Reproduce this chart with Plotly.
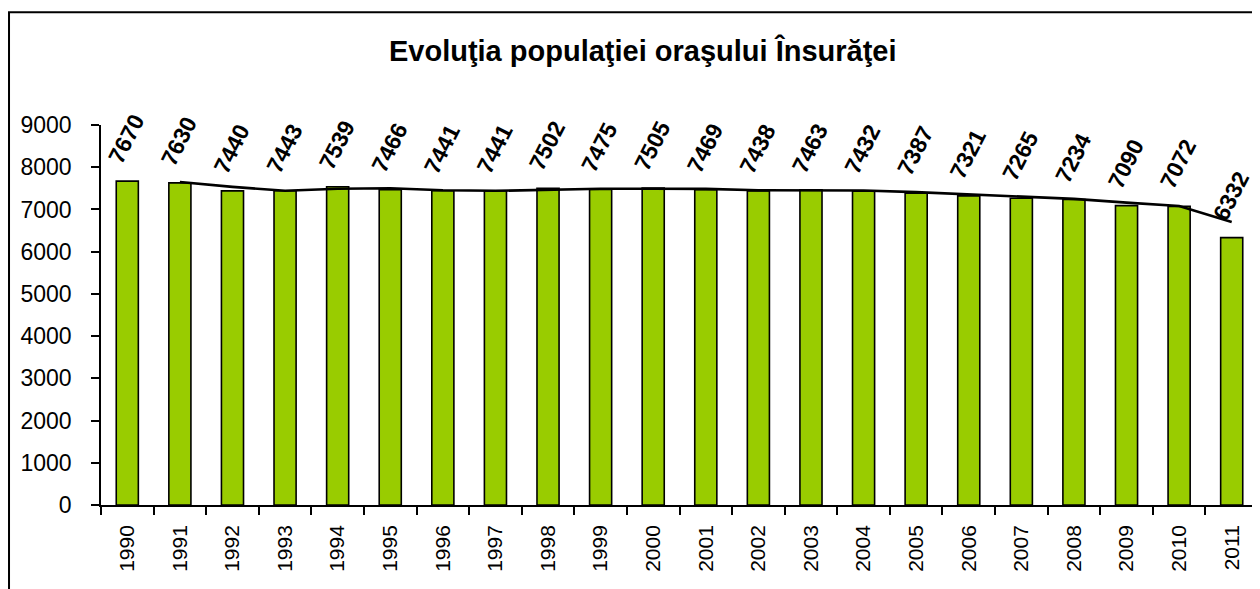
import plotly.graph_objects as go

years = [str(y) for y in range(1990, 2012)]
population = [7670, 7630, 7440, 7443, 7539, 7466, 7441, 7441, 7502, 7475, 7505,
              7469, 7438, 7463, 7432, 7387, 7321, 7265, 7234, 7090, 7072, 6332]
trend_years = years[1:]
trend_values = [7650, 7535, 7442, 7491, 7503, 7454, 7441, 7472, 7489, 7490, 7487,
                7454, 7451, 7448, 7410, 7354, 7293, 7250, 7162, 7081, 6702]
title_text = "Evoluţia populaţiei oraşului Însurăţei"

FONT = "Liberation Sans, Arial"

fig = go.Figure()
fig.add_trace(go.Bar(
    x=years, y=population, width=0.42,
    marker=dict(color="#99CC00", line=dict(color="black", width=1.6)),
    showlegend=False, hoverinfo="x+y",
))
fig.add_trace(go.Scatter(
    x=trend_years, y=trend_values, mode="lines",
    line=dict(color="black", width=2.6), showlegend=False,
))

for i, v in enumerate(population):
    fig.add_annotation(
        x=i, y=v, xref="x", yref="y", text=f"<b>{v}</b>", showarrow=False,
        textangle=-63, xanchor="center", yanchor="middle", yshift=42, xshift=-1,
        font=dict(family=FONT, size=23, color="black"),
    )

# outer chart frame
fig.add_shape(type="rect", xref="paper", yref="paper",
              x0=-0.0795, x1=1.02, y0=-0.35, y1=1.2965,
              line=dict(color="black", width=2), layer="below")

fig.update_layout(
    width=1252, height=581,
    margin=dict(l=93, r=2, t=117, b=84),
    paper_bgcolor="white", plot_bgcolor="white",
    title=dict(text=f"<b>{title_text}</b>", x=0.507, xanchor="center",
               y=0.927, yanchor="middle",
               font=dict(family=FONT, size=29, color="black")),
    font=dict(family=FONT, color="black"),
    bargap=0.58,
)
fig.update_xaxes(
    type="category", showline=True, linecolor="black", linewidth=1.5,
    ticks="outside", ticklen=8, tickwidth=1.5, tickcolor="black",
    tickson="boundaries", tickangle=-90, tickfont=dict(size=21),
    ticklabelstandoff=10,
    showgrid=False, range=[-0.5, 21.5],
)
fig.update_yaxes(
    range=[0, 9000], tickvals=list(range(0, 9001, 1000)),
    showline=True, linecolor="black", linewidth=1.5,
    ticks="outside", ticklen=8, tickwidth=1.5, tickcolor="black",
    tickfont=dict(size=23), ticklabelstandoff=15,
    showgrid=False, zeroline=False,
)

fig.write_html("out.html")
